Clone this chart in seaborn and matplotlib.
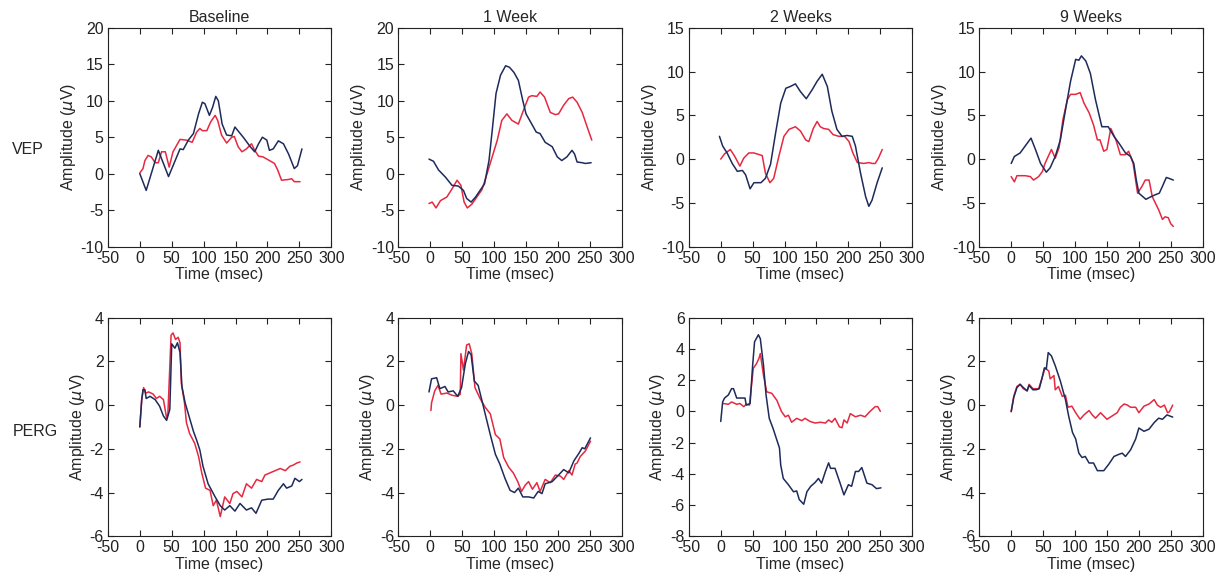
import numpy as np
import pandas as pd
import seaborn as sns
import matplotlib
matplotlib.use('Agg')
import matplotlib.pyplot as plt

# panel titles / rows
weeks = ['Baseline', '1 Week', '2 Weeks', '9 Weeks']
tests = ['VEP', 'PERG']

# ---- VEP, Baseline ----
vep_base_blue_t = [0, 10, 29, 45, 63, 68, 76, 84, 92, 98, 102, 109, 114, 119, 123, 129, 136, 144, 149, 162,
                   173, 180, 186, 192, 199, 203, 209, 217, 225, 233, 242, 247, 254]
vep_base_blue_v = [0, -2.3, 3.2, -0.4, 3.4, 3.3, 4.6, 5.5, 8.2, 9.8, 9.6, 8.0, 9.1, 10.6, 10.0, 6.8, 5.3, 5.2, 6.4, 5.0,
                   3.7, 3.0, 4.1, 5.0, 4.6, 3.2, 3.4, 4.5, 4.1, 2.7, 0.7, 1.1, 3.4]
vep_base_red_t = [0, 5, 8, 13, 18, 24, 29, 34, 40, 46, 52, 63, 73, 82, 89, 94, 98, 105, 111, 118, 122, 128, 136,
                  144, 148, 154, 160, 167, 175, 180, 186, 193, 201, 211, 216, 222, 233, 238, 242, 251]
vep_base_red_v = [0.1, 0.7, 1.8, 2.5, 2.3, 1.5, 1.5, 3.0, 3.0, 0.9, 3.0, 4.7, 4.6, 4.3, 5.7, 6.2, 5.9, 5.9, 7.1, 8.0,
                  7.3, 5.3, 4.2, 5.0, 5.1, 3.7, 3.0, 3.4, 4.1, 3.2, 2.4, 2.3, 1.9, 1.4, 0.5, -0.9, -0.8, -0.7, -1.1, -1.1]

# ---- VEP, 1 Week ----
vep_w1_blue_t = [-2, 5, 13, 24, 34, 44, 52, 57, 64, 71, 78, 85, 92, 97, 103, 110, 118, 124, 131, 138, 145, 150,
                 159, 166, 172, 180, 191, 199, 206, 214, 222, 226, 230, 238, 243, 252]
vep_w1_blue_v = [2.0, 1.7, 0.5, -0.5, -1.6, -1.7, -2.3, -3.4, -3.9, -3.2, -2.3, -1.4, 1.8, 5.9, 11.0, 13.5, 14.8,
                 14.6, 13.9, 12.8, 10.0, 8.2, 6.8, 5.7, 5.5, 4.3, 3.7, 2.3, 1.8, 2.3, 3.2, 2.7, 1.6, 1.5, 1.4, 1.5]
vep_w1_red_t = [-2, 3, 9, 16, 26, 34, 42, 48, 53, 58, 65, 73, 81, 89, 97, 105, 112, 120, 128, 138, 146, 154, 159,
                167, 172, 179, 188, 196, 201, 209, 217, 223, 230, 238, 245, 253]
vep_w1_red_v = [-4.1, -3.9, -4.7, -3.7, -3.2, -2.1, -0.9, -1.6, -3.9, -4.7, -4.2, -3.2, -2.2, 0.0, 2.3, 4.6, 7.3,
                8.2, 7.3, 6.8, 8.7, 10.5, 10.7, 10.6, 11.2, 10.5, 8.4, 8.1, 8.2, 9.4, 10.3, 10.5, 9.8, 8.4, 6.6, 4.6]

# ---- VEP, 2 Weeks ----
vep_w2_blue_t = [-2, 3, 10, 18, 26, 34, 39, 46, 52, 63, 70, 78, 86, 94, 102, 109, 117, 125, 134, 143, 151, 159,
                 167, 174, 182, 190, 198, 206, 211, 219, 227, 232, 237, 245, 253]
vep_w2_blue_v = [2.6, 1.5, 0.7, -0.5, -1.4, -1.3, -1.8, -3.4, -2.7, -2.7, -2.2, -0.6, 3.0, 6.4, 8.1, 8.3, 8.6,
                 7.7, 6.9, 7.9, 8.9, 9.7, 8.3, 5.5, 3.4, 2.6, 2.7, 2.6, 1.5, -1.6, -4.3, -5.4, -4.7, -2.7, -1.0]
vep_w2_red_t = [0, 6, 15, 22, 30, 36, 44, 52, 65, 70, 77, 83, 91, 99, 107, 117, 125, 133, 138, 145, 151, 156,
                161, 169, 176, 185, 194, 201, 207, 214, 224, 232, 237, 242, 247, 253]
vep_w2_red_v = [0.0, 0.6, 1.1, 0.3, -0.8, 0.1, 0.7, 0.7, 0.4, -1.6, -2.7, -2.2, 0.3, 2.6, 3.4, 3.7, 3.2, 2.2,
                2.0, 3.5, 4.3, 3.7, 3.5, 3.4, 2.8, 2.6, 2.6, 2.0, 0.7, -0.4, -0.5, -0.4, -0.5, -0.5, 0.1, 1.1]

# ---- VEP, 9 Weeks ----
vep_w9_blue_t = [0, 5, 14, 22, 31, 38, 46, 55, 61, 69, 77, 85, 93, 101, 106, 110, 117, 124, 132, 142, 152, 161,
                 169, 179, 187, 192, 196, 200, 211, 219, 225, 232, 237, 243, 247, 254]
vep_w9_blue_v = [-0.5, 0.3, 0.7, 1.5, 2.4, 1.1, -0.5, -1.5, -1.0, 0.3, 2.2, 5.6, 8.9, 11.4, 11.3, 11.8, 11.2,
                 9.8, 6.8, 3.7, 3.7, 2.6, 1.8, 0.7, 0.3, -0.5, -2.4, -3.9, -4.6, -4.3, -4.1, -3.9, -3.1, -2.1,
                 -2.2, -2.4]
vep_w9_red_t = [0, 5, 9, 22, 30, 35, 43, 49, 53, 63, 69, 75, 81, 88, 93, 101, 108, 114, 122, 129, 135, 139, 145,
                150, 156, 164, 171, 179, 184, 191, 198, 205, 210, 216, 221, 231, 237, 241, 246, 250, 254]
vep_w9_red_v = [-2.0, -2.6, -1.9, -1.9, -2.0, -2.4, -2.0, -1.4, -0.5, 1.1, 0.1, 1.3, 4.5, 6.8, 7.4, 7.4, 7.6,
                6.4, 5.3, 3.9, 2.2, 2.2, 0.9, 1.1, 3.5, 2.2, 0.5, 0.5, 0.9, -0.5, -3.9, -3.1, -2.4, -2.4, -4.3,
                -5.8, -6.9, -6.6, -6.7, -7.4, -7.7]

# ---- PERG, Baseline ----
perg_base_blue_t = [0, 3, 5, 8, 10, 16, 24, 31, 37, 42, 47, 50, 55, 59, 63, 66, 71, 76, 84, 89, 94, 99, 107, 118,
                    126, 133, 141, 149, 157, 167, 175, 182, 191, 201, 209, 217, 225, 230, 238, 243, 250, 254]
perg_base_blue_v = [-1.0, 0.25, 0.7, 0.7, 0.3, 0.4, 0.25, -0.05, -0.5, -0.7, -0.2, 2.8, 2.6, 2.85, 2.4, 0.85,
                    0.1, -0.4, -1.2, -1.6, -2.05, -2.8, -3.6, -4.2, -4.6, -4.8, -4.6, -4.85, -4.5, -4.8, -4.7,
                    -4.95, -4.35, -4.3, -4.3, -3.9, -3.6, -3.8, -3.7, -3.35, -3.5, -3.4]
perg_base_red_t = [0, 3, 6, 9, 14, 21, 26, 31, 37, 42, 44, 49, 52, 56, 60, 63, 65, 70, 73, 78, 86, 92, 97, 103,
                   110, 115, 120, 126, 133, 141, 146, 152, 160, 167, 175, 183, 191, 196, 204, 212, 220, 228, 235,
                   240, 246, 251]
perg_base_red_v = [-1.0, 0.25, 0.8, 0.55, 0.6, 0.5, 0.3, 0.4, 0.25, -0.6, -0.4, 3.2, 3.3, 3.0, 3.1, 2.85, 1.0,
                   0.1, -0.8, -1.3, -1.75, -2.35, -3.1, -3.8, -3.9, -4.6, -4.35, -5.1, -4.2, -4.5, -4.05, -3.95,
                   -4.2, -3.6, -3.8, -3.4, -3.5, -3.2, -3.1, -3.0, -2.9, -3.0, -2.8, -2.75, -2.65, -2.6]

# ---- PERG, 1 Week ----
perg_w1_blue_t = [-2, 2, 10, 15, 23, 28, 36, 43, 49, 55, 60, 64, 69, 75, 81, 86, 94, 102, 109, 117, 125, 132,
                  138, 145, 154, 162, 169, 175, 180, 191, 201, 209, 217, 225, 233, 238, 242, 251]
perg_w1_blue_v = [0.6, 1.2, 1.25, 0.75, 0.85, 0.6, 0.65, 0.4, 0.8, 1.9, 2.45, 2.3, 1.1, 0.9, 0.2, -0.4, -1.35,
                  -2.25, -2.7, -3.35, -3.9, -4.0, -3.8, -4.2, -4.2, -4.25, -3.95, -4.05, -3.6, -3.5, -3.2, -2.95,
                  -3.1, -2.55, -2.2, -1.95, -2.0, -1.5]
perg_w1_red_t = [1, 2, 7, 12, 17, 26, 34, 43, 47, 48, 52, 57, 61, 65, 70, 78, 86, 94, 102, 109, 115, 123, 130,
                 137, 143, 149, 154, 160, 167, 172, 180, 188, 196, 204, 209, 217, 222, 227, 230, 235, 243, 251]
perg_w1_red_v = [-0.25, 0.1, 0.65, 0.9, 0.5, 0.55, 0.45, 0.4, 0.5, 2.35, 1.6, 2.75, 2.8, 2.35, 0.8, 0.3, -0.1,
                 -0.4, -1.35, -1.55, -2.4, -2.85, -3.1, -3.5, -3.95, -3.65, -3.5, -3.85, -3.55, -3.95, -3.4,
                 -3.55, -3.2, -3.25, -3.4, -3.0, -3.2, -2.7, -2.65, -2.35, -2.1, -1.65]

# ---- PERG, 2 Weeks ----
perg_w2_blue_t = [0, 3, 6, 12, 17, 20, 25, 30, 38, 40, 46, 50, 53, 59, 62, 67, 71, 76, 82, 88, 92, 94, 98, 106,
                  114, 119, 123, 130, 135, 141, 148, 153, 158, 164, 169, 172, 179, 187, 193, 200, 205, 211, 216,
                  221, 229, 237, 244, 251]
perg_w2_blue_v = [-0.65, 0.6, 0.85, 1.05, 1.45, 1.45, 0.85, 0.85, 0.85, 0.4, 0.5, 2.95, 4.45, 4.9, 4.65, 2.95,
                  1.05, -0.45, -1.1, -1.85, -2.35, -3.45, -4.3, -4.7, -5.15, -5.1, -5.65, -5.95, -5.15, -4.8,
                  -4.55, -4.3, -4.6, -3.85, -3.3, -3.65, -3.65, -4.6, -5.35, -4.7, -4.8, -3.85, -3.85, -3.6,
                  -4.6, -4.7, -4.95, -4.9]
perg_w2_red_t = [4, 12, 17, 25, 30, 36, 40, 45, 51, 56, 60, 62, 67, 72, 80, 88, 95, 101, 106, 111, 119, 127, 132,
                 140, 148, 156, 164, 169, 174, 179, 186, 190, 193, 198, 203, 211, 219, 226, 234, 242, 246, 250]
perg_w2_red_v = [0.5, 0.45, 0.6, 0.45, 0.5, 0.3, 0.45, 0.4, 2.75, 3.05, 3.4, 3.7, 2.3, 1.25, 1.15, 0.7, 0.0,
                 -0.35, -0.25, -0.7, -0.45, -0.6, -0.45, -0.65, -0.75, -0.7, -0.75, -0.55, -0.7, -0.45, -1.0,
                 -1.05, -0.55, -0.75, -0.15, -0.35, -0.25, -0.35, 0.0, 0.3, 0.3, 0.0]

# ---- PERG, 9 Weeks ----
perg_w9_blue_t = [0, 4, 9, 14, 19, 25, 28, 34, 39, 44, 48, 52, 55, 58, 63, 69, 77, 85, 90, 96, 101, 106, 111, 116,
                  122, 129, 135, 145, 153, 161, 169, 174, 179, 187, 195, 200, 208, 216, 224, 231, 237, 244, 253]
perg_w9_blue_v = [-0.3, 0.35, 0.8, 0.95, 0.8, 0.65, 0.9, 0.7, 0.7, 0.75, 1.2, 1.7, 1.65, 2.4, 2.25, 1.8, 1.1,
                  0.25, -0.5, -1.25, -1.55, -2.2, -2.4, -2.35, -2.65, -2.65, -3.0, -3.0, -2.7, -2.35, -2.25,
                  -2.2, -2.35, -2.05, -1.55, -1.05, -1.2, -1.1, -0.8, -0.6, -0.65, -0.45, -0.55]
perg_w9_red_t = [0, 4, 9, 14, 19, 25, 28, 34, 43, 48, 53, 59, 61, 67, 69, 74, 80, 85, 89, 95, 101, 108, 114, 122,
                 127, 132, 140, 145, 150, 158, 166, 171, 177, 182, 187, 195, 200, 208, 216, 224, 229, 234, 240,
                 245, 248, 253]
perg_w9_red_v = [-0.3, 0.4, 0.85, 0.95, 0.75, 0.65, 0.95, 0.75, 0.75, 1.2, 1.7, 1.55, 1.2, 1.35, 0.7, 0.85, 0.4,
                 0.45, -0.1, -0.05, -0.35, -0.65, -0.45, -0.25, -0.45, -0.6, -0.35, -0.5, -0.65, -0.5, -0.35,
                 -0.1, 0.05, 0.0, -0.1, -0.1, -0.35, -0.05, 0.05, 0.25, 0.0, -0.1, 0.0, -0.35, -0.3, 0.0]

curves = {
    ('VEP', 'Baseline'): [(vep_base_red_t, vep_base_red_v), (vep_base_blue_t, vep_base_blue_v)],
    ('VEP', '1 Week'): [(vep_w1_red_t, vep_w1_red_v), (vep_w1_blue_t, vep_w1_blue_v)],
    ('VEP', '2 Weeks'): [(vep_w2_red_t, vep_w2_red_v), (vep_w2_blue_t, vep_w2_blue_v)],
    ('VEP', '9 Weeks'): [(vep_w9_red_t, vep_w9_red_v), (vep_w9_blue_t, vep_w9_blue_v)],
    ('PERG', 'Baseline'): [(perg_base_red_t, perg_base_red_v), (perg_base_blue_t, perg_base_blue_v)],
    ('PERG', '1 Week'): [(perg_w1_red_t, perg_w1_red_v), (perg_w1_blue_t, perg_w1_blue_v)],
    ('PERG', '2 Weeks'): [(perg_w2_red_t, perg_w2_red_v), (perg_w2_blue_t, perg_w2_blue_v)],
    ('PERG', '9 Weeks'): [(perg_w9_red_t, perg_w9_red_v), (perg_w9_blue_t, perg_w9_blue_v)],
}

# y ranges per panel
ylims = {
    'VEP': [(-10, 20), (-10, 20), (-10, 15), (-10, 15)],
    'PERG': [(-6, 4), (-6, 4), (-8, 6), (-6, 4)],
}
ysteps = {'VEP': 5, 'PERG': 2}

rows = []
for (test, week), pair in curves.items():
    for name, (t, v) in zip(['red', 'blue'], pair):
        for ti, vi in zip(t, v):
            rows.append((test, week, name, ti, vi))
df = pd.DataFrame(rows, columns=['test', 'week', 'eye', 'time', 'amp'])

sns.set_style('ticks')
plt.rcParams['font.family'] = ['Liberation Sans', 'DejaVu Sans']
plt.rcParams['font.size'] = 11.5
plt.rcParams['mathtext.fontset'] = 'dejavusans'
plt.rcParams['axes.unicode_minus'] = False

palette = {'red': '#e62840', 'blue': '#1e2b5a'}

fig, axes = plt.subplots(2, 4, figsize=(12.26, 5.81), dpi=100)
fig.subplots_adjust(left=0.088, right=0.981, top=0.952, bottom=0.077, wspace=0.30, hspace=0.325)

for r, test in enumerate(tests):
    for c, week in enumerate(weeks):
        ax = axes[r, c]
        sub = df[(df['test'] == test) & (df['week'] == week)]
        sns.lineplot(data=sub, x='time', y='amp', hue='eye', palette=palette,
                     estimator=None, sort=False, legend=False, linewidth=1.1, ax=ax)
        lo, hi = ylims[test][c]
        ax.set_ylim(lo, hi)
        ax.set_yticks(np.arange(lo, hi + 0.1, ysteps[test]))
        ax.set_xlim(-50, 300)
        ax.set_xticks(np.arange(-50, 301, 50))
        ax.tick_params(direction='in', top=True, right=True, length=4, width=0.8,
                       labelsize=11.5, pad=3, colors='#222222')
        for s in ax.spines.values():
            s.set_linewidth(0.8)
            s.set_color('#222222')
        ax.set_xlabel('Time (msec)', fontsize=11.5, labelpad=1)
        ax.set_ylabel(r'Amplitude ($\mu$V)', fontsize=11.5, labelpad=2)
        if r == 0:
            ax.set_title(week, fontsize=11.5, pad=4)

fig.text(0.010, 0.742, 'VEP', fontsize=11.5, ha='left', va='center')
fig.text(0.010, 0.258, 'PERG', fontsize=11.5, ha='left', va='center')

fig.savefig('out.png', dpi=100)
